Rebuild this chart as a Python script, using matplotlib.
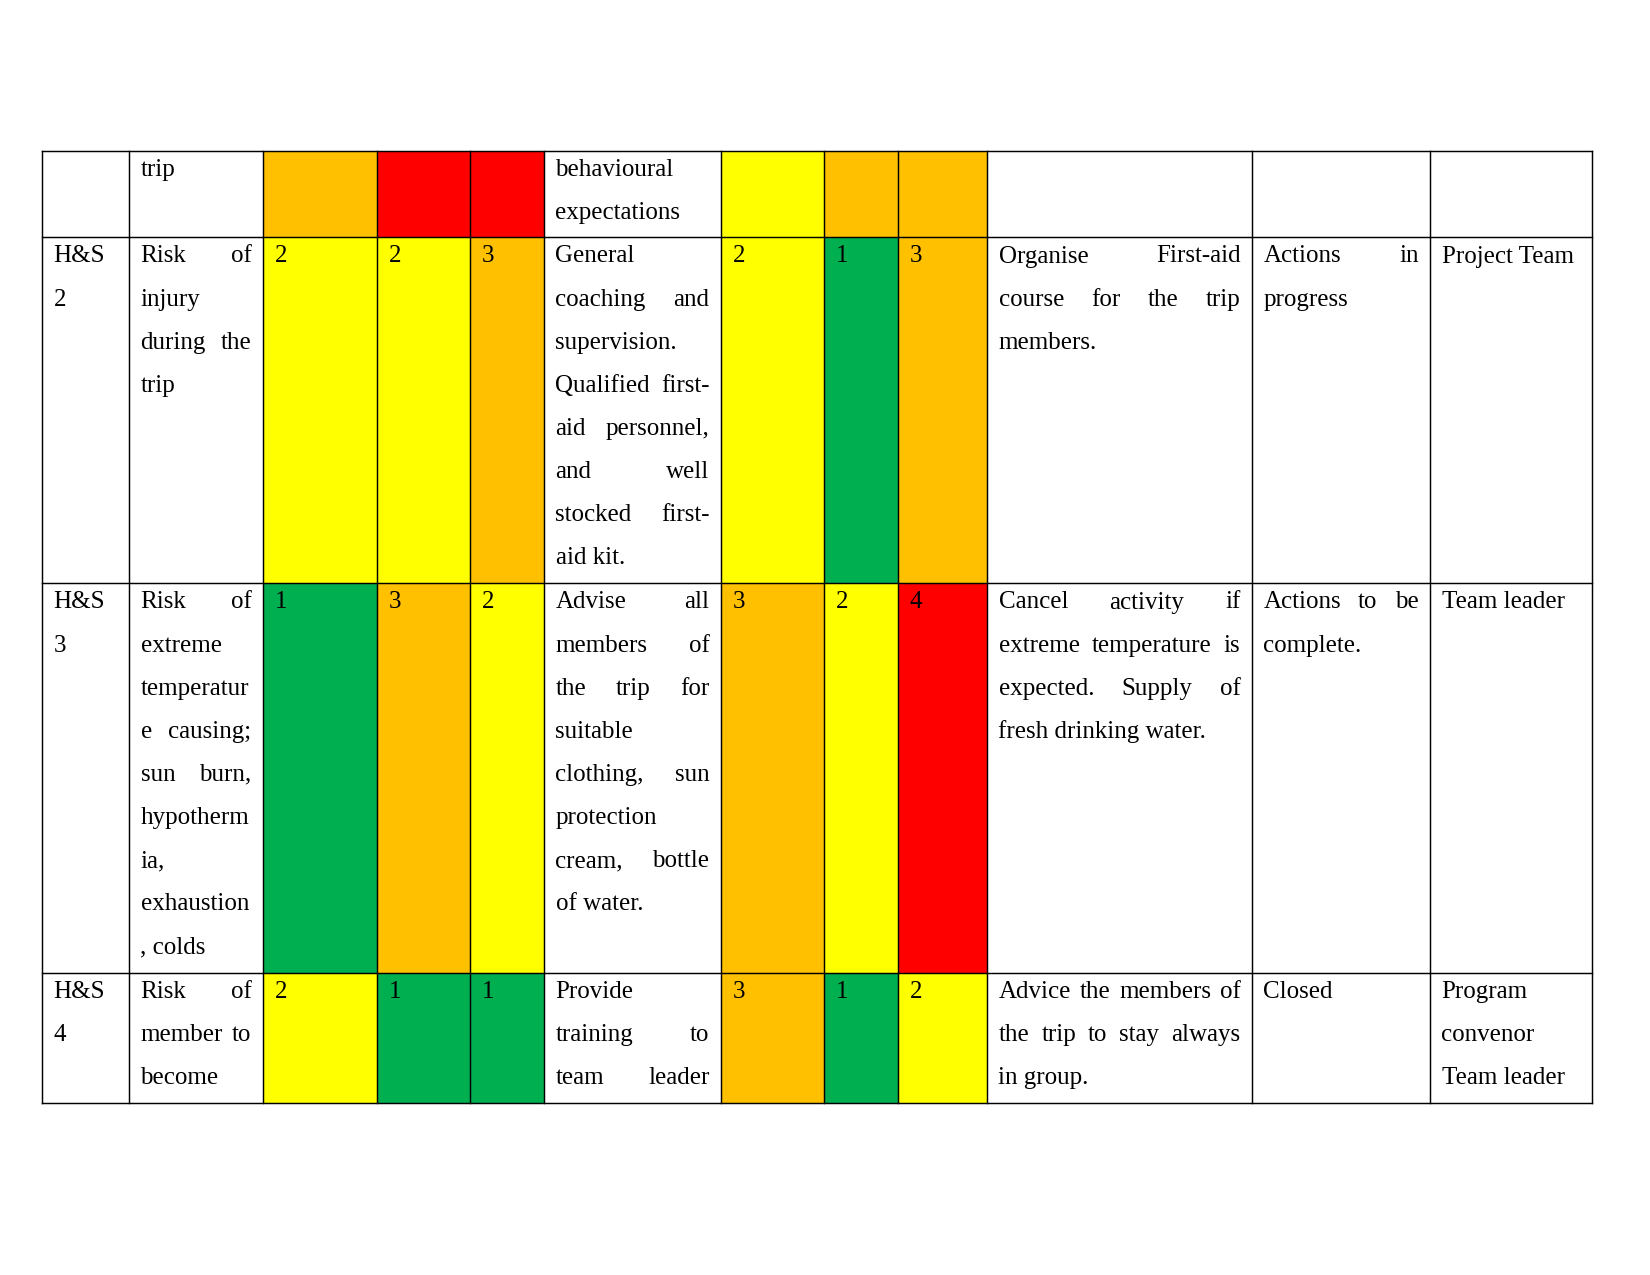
import matplotlib
matplotlib.use("Agg")
from matplotlib import pyplot as plt
from matplotlib.patches import Rectangle

# --- table content (one entry per row, each cell is a list of printed lines) ---
hazard_ids = [[], ["H&S", "2"], ["H&S", "3"], ["H&S", "4"]]
hazards = [
    ["trip"],
    ["Risk of", "injury", "during the", "trip"],
    ["Risk of", "extreme", "temperatur", "e causing;", "sun burn,",
     "hypotherm", "ia,", "exhaustion", ", colds"],
    ["Risk of", "member to", "become"],
]
initial_scores = [[3, 4, 4], [2, 2, 3], [1, 3, 2], [2, 1, 1]]
controls = [
    ["behavioural", "expectations"],
    ["General", "coaching and", "supervision.", "Qualified first-",
     "aid personnel,", "and well", "stocked first-", "aid kit."],
    ["Advise all", "members of", "the trip for", "suitable", "clothing, sun",
     "protection", "cream, bottle", "of water."],
    ["Provide", "training to", "team leader"],
]
residual_scores = [[2, 3, 3], [2, 1, 3], [3, 2, 4], [3, 1, 2]]
actions = [
    [],
    ["Organise First-aid", "course for the trip", "members."],
    ["Cancel activity if", "extreme temperature is", "expected. Supply of",
     "fresh drinking water."],
    ["Advice the members of", "the trip to stay always", "in group."],
]
status = [[], ["Actions in", "progress"], ["Actions to be", "complete."], ["Closed"]]
owners = [[], ["Project Team"], ["Team leader"], ["Program", "convenor", "Team leader"]]

# first row is carried over from the previous page: colours only, no numbers
show_scores = [False, True, True, True]
# cells whose text runs on to the next page (last line stays justified)
cut_cells = [(3, 5)]

level_colors = {1: "#00B050", 2: "#FFFF00", 3: "#FFC000", 4: "#FF0000"}

# --- page layout in pixels ---
col_edges = [42, 129, 263, 377, 470, 544, 721, 824, 898, 987, 1252, 1430, 1592]
row_edges = [150.5, 237, 583, 972.5, 1103]
pad = 11.5
first_base = 25.5
line_step = 43.1

style = dict(fontsize=12, family=["Liberation Serif", "DejaVu Serif"],
             color="black", va="baseline", ha="left")

fig = plt.figure(figsize=(11, 8.5), dpi=150)
ax = fig.add_axes([0, 0, 1, 1])
ax.set_xlim(0, 1650)
ax.set_ylim(1275, 0)
ax.axis("off")
renderer = fig.canvas.get_renderer()


def draw_lines(lines, col, row, justify_last=False):
    x0 = col_edges[col] + pad
    x1 = col_edges[col + 1] - pad
    for k, line in enumerate(lines):
        y = row_edges[row] + first_base + k * line_step
        words = line.split()
        last = k == len(lines) - 1
        if len(words) < 2 or (last and not justify_last):
            ax.text(x0, y, line, **style)
            continue
        texts = [ax.text(0, y, w, **style) for w in words]
        widths = [t.get_window_extent(renderer).width for t in texts]
        gap = (x1 - x0 - sum(widths)) / (len(words) - 1)
        x = x0
        for t, w in zip(texts, widths):
            t.set_x(x)
            x += w + gap


for r in range(len(hazards)):
    top, bottom = row_edges[r], row_edges[r + 1]
    # coloured risk cells
    for cols, scores in (((2, 3, 4), initial_scores[r]), ((6, 7, 8), residual_scores[r])):
        for c, s in zip(cols, scores):
            ax.add_patch(Rectangle((col_edges[c], top), col_edges[c + 1] - col_edges[c],
                                   bottom - top, facecolor=level_colors[s],
                                   edgecolor="none", zorder=1))
            if show_scores[r]:
                ax.text(col_edges[c] + pad, top + first_base, str(s), **style)

    cells = [hazard_ids[r], hazards[r], None, None, None, controls[r],
             None, None, None, actions[r], status[r], owners[r]]
    for c, lines in enumerate(cells):
        if lines:
            draw_lines(lines, c, r, justify_last=(r, c) in cut_cells)

# grid lines
for x in col_edges:
    ax.plot([x, x], [row_edges[0], row_edges[-1]], color="black", lw=0.7, zorder=3)
for y in row_edges:
    ax.plot([col_edges[0], col_edges[-1]], [y, y], color="black", lw=0.7, zorder=3)

fig.savefig("out.png", dpi=150, facecolor="white")
